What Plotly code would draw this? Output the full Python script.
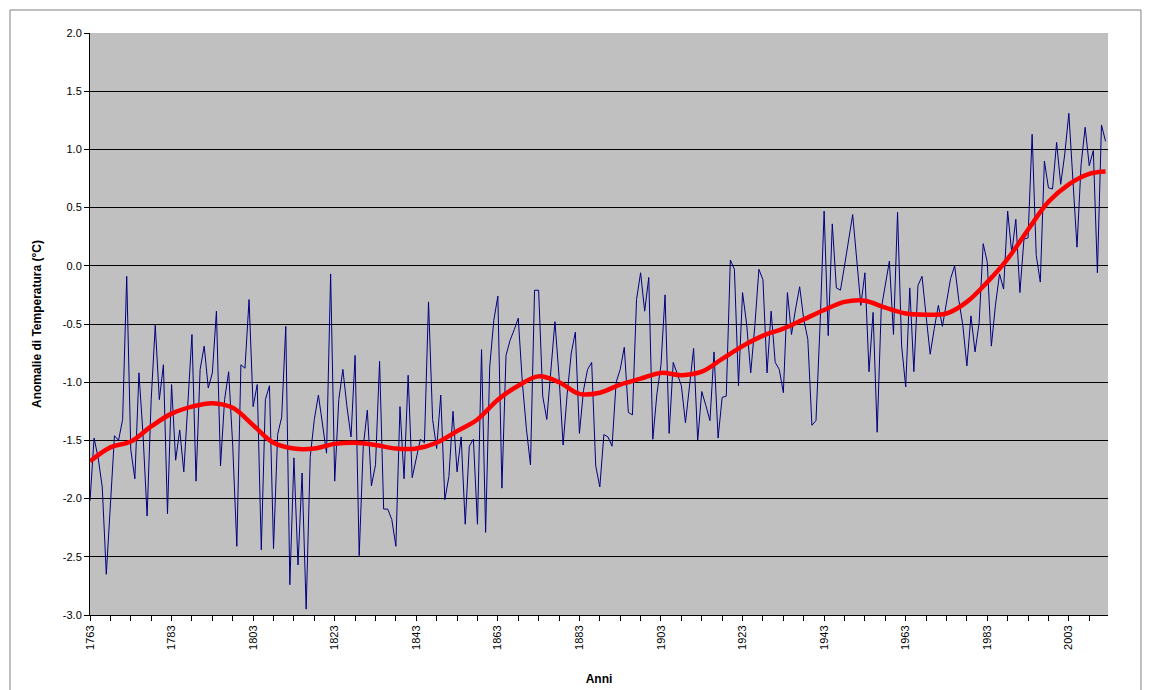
import plotly.graph_objects as go

# ---- data ----
start_year = 1763
annual_anomaly = [
    -2.02, -1.48, -1.65, -1.90, -2.65, -2.10, -1.46, -1.50, -1.32, -0.09,
    -1.58, -1.83, -0.92, -1.45, -2.15, -1.15, -0.51, -1.15, -0.85, -2.13,
    -1.02, -1.67, -1.41, -1.77, -1.20, -0.59, -1.85, -0.89, -0.69, -1.05,
    -0.92, -0.39, -1.72, -1.15, -0.91, -1.55, -2.41, -0.85, -0.88, -0.29,
    -1.21, -1.02, -2.44, -1.15, -1.03, -2.43, -1.45, -1.30, -0.52, -2.74,
    -1.65, -2.57, -1.78, -2.95, -1.64, -1.32, -1.11, -1.38, -1.61, -0.07,
    -1.85, -1.15, -0.89, -1.21, -1.47, -0.77, -2.49, -1.55, -1.24, -1.89,
    -1.71, -0.82, -2.09, -2.09, -2.18, -2.41, -1.21, -1.83, -0.94, -1.82,
    -1.64, -1.49, -1.52, -0.31, -1.32, -1.57, -1.11, -2.01, -1.81, -1.25,
    -1.77, -1.47, -2.22, -1.55, -1.49, -2.22, -0.72, -2.29, -0.87, -0.47,
    -0.26, -1.91, -0.77, -0.64, -0.55, -0.45, -1.00, -1.40, -1.71, -0.21,
    -0.21, -1.12, -1.32, -0.90, -0.48, -0.95, -1.54, -1.10, -0.75, -0.57,
    -1.44, -1.07, -0.89, -0.83, -1.72, -1.90, -1.45, -1.47, -1.55, -1.00,
    -0.89, -0.70, -1.26, -1.28, -0.29, -0.06, -0.39, -0.10, -1.49, -1.10,
    -0.85, -0.25, -1.44, -0.83, -0.93, -1.03, -1.35, -1.00, -0.71, -1.50,
    -1.08, -1.20, -1.33, -0.74, -1.48, -1.13, -1.12, 0.05, -0.03, -1.03,
    -0.23, -0.50, -0.92, -0.52, -0.03, -0.12, -0.92, -0.39, -0.83, -0.89,
    -1.09, -0.23, -0.59, -0.37, -0.18, -0.46, -0.63, -1.37, -1.33, -0.51,
    0.47, -0.60, 0.36, -0.19, -0.21, 0.00, 0.23, 0.44, 0.05, -0.34,
    -0.06, -0.91, -0.40, -1.43, -0.37, -0.17, 0.04, -0.59, 0.46, -0.69,
    -1.04, -0.19, -0.91, -0.17, -0.09, -0.43, -0.76, -0.54, -0.34, -0.52,
    -0.31, -0.11, 0.00, -0.29, -0.51, -0.86, -0.43, -0.74, -0.49, 0.19,
    0.03, -0.69, -0.34, -0.07, -0.20, 0.47, 0.11, 0.40, -0.23, 0.23,
    0.24, 1.13, 0.09, -0.14, 0.90, 0.67, 0.66, 1.06, 0.70, 0.96,
    1.31, 0.74, 0.16, 0.87, 1.19, 0.86, 0.99, -0.06, 1.21, 1.07,
]
years = list(range(start_year, start_year + len(annual_anomaly)))

smooth_years = [1763, 1768, 1773, 1778, 1783, 1788, 1793, 1798, 1803, 1808,
                1813, 1818, 1823, 1828, 1833, 1838, 1843, 1848, 1853, 1858,
                1863, 1868, 1873, 1878, 1883, 1888, 1893, 1898, 1903, 1908,
                1913, 1918, 1923, 1928, 1933, 1938, 1943, 1948, 1953, 1958,
                1963, 1968, 1973, 1978, 1983, 1988, 1993, 1998, 2003, 2008, 2012]
smooth_values = [-1.68, -1.56, -1.51, -1.38, -1.27, -1.21, -1.18, -1.22, -1.37, -1.52,
                 -1.57, -1.57, -1.53, -1.52, -1.54, -1.57, -1.57, -1.52, -1.42, -1.32,
                 -1.15, -1.03, -0.95, -1.00, -1.10, -1.09, -1.02, -0.97, -0.92, -0.94,
                 -0.91, -0.80, -0.69, -0.60, -0.54, -0.46, -0.38, -0.31, -0.30, -0.36,
                 -0.41, -0.42, -0.41, -0.31, -0.14, 0.06, 0.31, 0.55, 0.70, 0.79, 0.81]

x_tick_years = list(range(1763, 2013, 20))
y_ticks = [2.0, 1.5, 1.0, 0.5, 0.0, -0.5, -1.0, -1.5, -2.0, -2.5, -3.0]

FONT = "Liberation Sans, Arial, sans-serif"

fig = go.Figure()
fig.add_trace(go.Scatter(
    x=years, y=annual_anomaly, mode="lines",
    line=dict(color="#000080", width=1), showlegend=False,
))
fig.add_trace(go.Scatter(
    x=smooth_years, y=smooth_values, mode="lines",
    line=dict(color="#FF0000", width=4.5, shape="spline", smoothing=1.0),
    showlegend=False,
))

fig.update_layout(
    width=1152, height=690,
    margin=dict(l=82, r=52, t=25, b=83),
    paper_bgcolor="white",
    plot_bgcolor="#C0C0C0",
    font=dict(family=FONT, size=11, color="black"),
    shapes=[dict(type="rect", xref="paper", yref="paper",
                 x0=-0.0786, x1=1.0324, y0=-0.15, y1=1.0395,
                 line=dict(color="#808080", width=1), layer="below")],
)
fig.update_xaxes(
    range=[1763, 2012.6],
    tickvals=x_tick_years, ticktext=[str(v) for v in x_tick_years],
    tickangle=-90, ticks="outside", ticklen=5, tickcolor="black",
    minor=dict(dtick=5, tick0=1763, ticks="outside", ticklen=5, tickcolor="black", showgrid=False),
    showgrid=False, zeroline=False,
    showline=True, linecolor="black", linewidth=1, mirror=False,
    title=dict(text="<b>Anni</b>", font=dict(size=12, family=FONT), standoff=25),
    tickfont=dict(size=11, family=FONT),
)
fig.update_yaxes(
    range=[-3.0, 2.0],
    tickvals=y_ticks, ticktext=[f"{v:.1f}" for v in y_ticks],
    ticks="outside", ticklen=5, tickcolor="black",
    showgrid=True, gridcolor="black", gridwidth=1, zeroline=False,
    showline=True, linecolor="black", linewidth=1,
    title=dict(text="<b>Anomalie di Temperatura (°C)</b>", font=dict(size=12, family=FONT), standoff=18),
    tickfont=dict(size=11, family=FONT),
)

fig.write_html("out.html")
